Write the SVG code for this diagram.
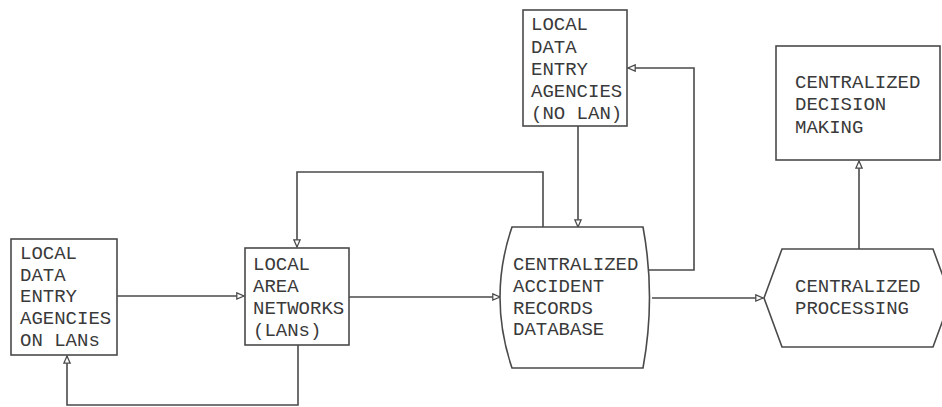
<svg xmlns="http://www.w3.org/2000/svg" width="942" height="407" viewBox="0 0 942 407">
<defs>
<style>
.box{fill:#fff;stroke:#4a4a4a;stroke-width:1.6}
.ln{fill:none;stroke:#4a4a4a;stroke-width:1.6}
text{font-family:"Liberation Mono","DejaVu Sans Mono",monospace;font-size:19px;fill:#3a3a3a}
</style>
<marker id="ah" viewBox="0 0 10 10" refX="9" refY="5" markerWidth="9" markerHeight="9" markerUnits="userSpaceOnUse" orient="auto">
<path d="M1,1.5 L9,5 L1,8.5 z" fill="#fff" stroke="#4a4a4a" stroke-width="1.4"/>
</marker>
</defs>
<rect width="942" height="407" fill="#fff"/>
<g id="connectors">
<path class="ln" d="M117,296 L244,296" marker-end="url(#ah)"/>
<path class="ln" d="M298,345 L298,405 L67,405 L67,356" marker-end="url(#ah)"/>
<path class="ln" d="M543,228 L543,172 L297,172 L297,247" marker-end="url(#ah)"/>
<path class="ln" d="M349,297 L500,297" marker-end="url(#ah)"/>
<path class="ln" d="M578,126 L578,227" marker-end="url(#ah)"/>
<path class="ln" d="M648,270 L694,270 L694,68 L628,68" marker-end="url(#ah)"/>
<path class="ln" d="M652,298 L763,298" marker-end="url(#ah)"/>
<path class="ln" d="M859,249 L859,161" marker-end="url(#ah)"/>
</g>
<g id="node-lans-agencies">
<rect class="box" x="11" y="239" width="106" height="116"/>
<text x="20" y="259">LOCAL</text>
<text x="20" y="281">DATA</text>
<text x="20" y="302">ENTRY</text>
<text x="20" y="324">AGENCIES</text>
<text x="20" y="346">ON LANs</text>
</g>
<g id="node-lan">
<rect class="box" x="245" y="248" width="104" height="97"/>
<text x="253" y="270">LOCAL</text>
<text x="253" y="292">AREA</text>
<text x="253" y="314">NETWORKS</text>
<text x="253" y="336">(LANs)</text>
</g>
<g id="node-nolan">
<rect class="box" x="523" y="10" width="104" height="116"/>
<text x="531" y="30">LOCAL</text>
<text x="531" y="53">DATA</text>
<text x="531" y="75">ENTRY</text>
<text x="531" y="97">AGENCIES</text>
<text x="531" y="119">(NO LAN)</text>
</g>
<g id="node-database">
<path class="box" d="M512,227 L643,227 Q656,297 643,368 L512,368 Q488,297 512,227 z"/>
<text x="513" y="270">CENTRALIZED</text>
<text x="513" y="292">ACCIDENT</text>
<text x="513" y="314">RECORDS</text>
<text x="513" y="335">DATABASE</text>
</g>
<g id="node-processing">
<path class="box" d="M764,298 L782,249 L933,249 L951,298 L933,347 L782,347 z"/>
<text x="795" y="292">CENTRALIZED</text>
<text x="795" y="314">PROCESSING</text>
</g>
<g id="node-decision">
<rect class="box" x="776" y="46" width="164" height="114"/>
<text x="795" y="88">CENTRALIZED</text>
<text x="795" y="110">DECISION</text>
<text x="795" y="133">MAKING</text>
</g>
</svg>
